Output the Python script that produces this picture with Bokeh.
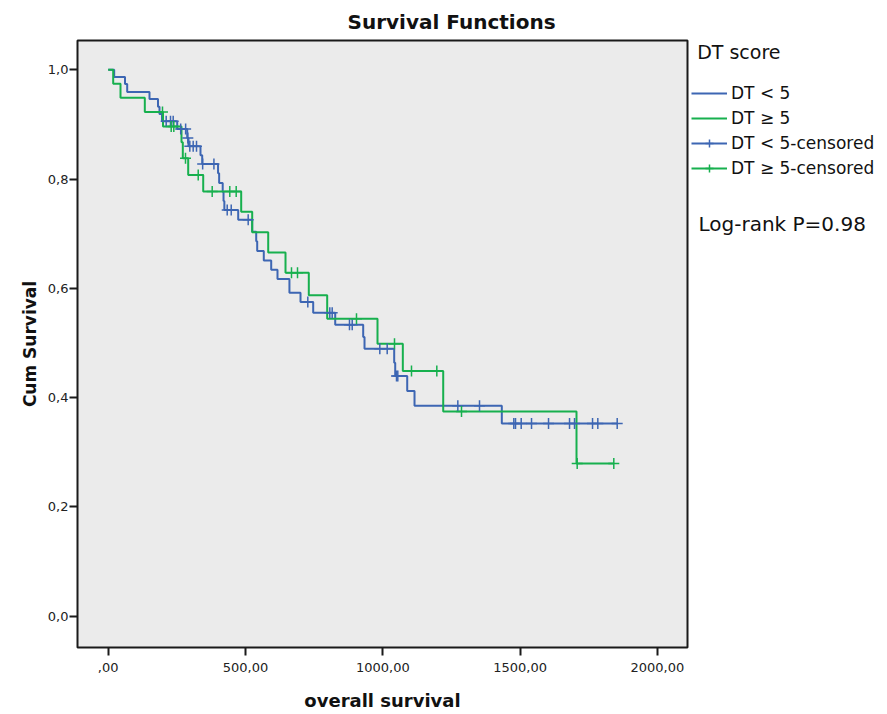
from bokeh.plotting import figure
from bokeh.layouts import row
from bokeh.models import Range1d, FixedTicker, Label, Legend, LegendItem
from bokeh.embed import file_html
from bokeh.resources import INLINE

# ---- data ----
blue_t = [0, 21.8, 61.2, 69.2, 150.4, 181.4, 186.8, 195.9, 251.3, 287.7, 292.4, 336.1, 342.3,
          400, 404, 417, 420, 423, 473.4, 524.4, 539.0, 542.6, 566.6, 593.6, 616.5, 660.0,
          700.3, 746.5, 826.7, 928.6, 933.4, 1041.5, 1045.2, 1088.9, 1115.5, 1433.4, 1853.6]
blue_s = [1.0, 0.9868, 0.9737, 0.9591, 0.9463, 0.9324, 0.9189, 0.9056, 0.8915, 0.875, 0.8599,
          0.8434, 0.8276, 0.8105, 0.7928, 0.7764, 0.7600, 0.7435, 0.7253, 0.7033, 0.6863, 0.6681,
          0.6511, 0.6339, 0.6169, 0.5919, 0.5749, 0.5554, 0.5334, 0.511, 0.4896, 0.464, 0.4397,
          0.4123, 0.3849, 0.3526, 0.3526]
blue_cens_t = [211.2, 226.9, 236.7, 264, 282, 290, 297.2, 309.5, 321.6, 344, 385, 433.4, 448,
               509.8, 726.9, 807, 815.7, 878.7, 888.6, 989.1, 1016, 1049.9, 1054.6, 1273.2,
               1352.2, 1477.1, 1483.3, 1504, 1541.6, 1603.5, 1680, 1698.2, 1763.8, 1783, 1853.6]
blue_cens_s = [0.9056, 0.9056, 0.9056, 0.8915, 0.8915, 0.875, 0.8599, 0.8599, 0.8599, 0.8276,
               0.8276, 0.7435, 0.7435, 0.7253, 0.5749, 0.5554, 0.5554, 0.5334, 0.5334, 0.4896,
               0.4896, 0.4397, 0.4397, 0.3849, 0.3849, 0.3526, 0.3526, 0.3526, 0.3526, 0.3526,
               0.3526, 0.3526, 0.3526, 0.3526, 0.3526]

green_t = [0, 18.2, 44.8, 133.3, 199.6, 266.9, 271.7, 291.3, 346, 484.3, 524.4, 582.7, 645.7,
           730.5, 797.5, 980.7, 1072.9, 1220, 1705.4, 1841.2]
green_s = [1.0, 0.9744, 0.9489, 0.9225, 0.8959, 0.8672, 0.8381, 0.8075, 0.7771, 0.7399, 0.7028,
           0.6657, 0.6284, 0.5871, 0.5444, 0.4987, 0.4489, 0.3745, 0.2795, 0.2795]
green_cens_t = [197.7, 229.4, 238.9, 281.5, 327.8, 378.7, 442.8, 466.1, 667.5, 689.4, 904.2,
                1042.6, 1104.5, 1196.7, 1286.6, 1707.9, 1841.2]
green_cens_s = [0.9225, 0.8959, 0.8959, 0.8381, 0.8075, 0.7771, 0.7771, 0.7771, 0.6284, 0.6284,
                0.5444, 0.4987, 0.4489, 0.4489, 0.3745, 0.2795, 0.2795]

x_ticks = [0, 500, 1000, 1500, 2000]
x_tick_labels = [",00", "500,00", "1000,00", "1500,00", "2000,00"]
y_ticks = [0.0, 0.2, 0.4, 0.6, 0.8, 1.0]
y_tick_labels = ["0,0", "0,2", "0,4", "0,6", "0,8", "1,0"]

group_labels = ["DT < 5", "DT \u2265 5"]
legend_title = "DT score"
test_text = "Log-rank P=0.98"

BLUE = "#3D66B3"
GREEN = "#17B04E"
FONT = "DejaVu Sans"
INK = "#111111"

p = figure(width=691, height=714, title="Survival Functions",
           x_range=Range1d(-111.8, 2109.6), y_range=Range1d(-0.0573, 1.0535),
           output_backend="svg", toolbar_location=None,
           min_border_left=77, min_border_right=4, min_border_top=39, min_border_bottom=67)
p.background_fill_color = "#EBEBEB"
p.border_fill_color = "white"
p.outline_line_color = "#1a1a1a"
p.outline_line_width = 2
p.grid.visible = False

p.title.align = "left"
p.title.offset = 270
p.title.standoff = 14
p.title.text_font = FONT
p.title.text_font_size = "20px"
p.title.text_font_style = "bold"
p.title.text_color = INK

p.xaxis.ticker = FixedTicker(ticks=x_ticks)
p.xaxis.major_label_overrides = dict(zip(x_ticks, x_tick_labels))
p.yaxis.ticker = FixedTicker(ticks=y_ticks)
p.yaxis.major_label_overrides = dict(zip(y_ticks, y_tick_labels))
for ax in (p.xaxis, p.yaxis):
    ax.axis_line_color = None
    ax.major_tick_out = 8
    ax.major_tick_in = 0
    ax.major_tick_line_width = 2
    ax.major_tick_line_color = "#1a1a1a"
    ax.minor_tick_out = 0
    ax.minor_tick_in = 0
    ax.major_label_text_font = FONT
    ax.major_label_text_font_size = "13px"
    ax.major_label_text_color = "#222222"
    ax.axis_label_text_font = FONT
    ax.axis_label_text_font_style = "bold"
    ax.axis_label_text_color = INK
p.xaxis.major_label_standoff = 7
p.yaxis.major_label_standoff = 1
p.xaxis.axis_label = "overall survival"
p.yaxis.axis_label = "Cum Survival"
p.xaxis.axis_label_text_font_size = "18px"
p.yaxis.axis_label_text_font_size = "17px"
p.xaxis.axis_label_standoff = 15
p.yaxis.axis_label_standoff = 5

p.step(blue_t, blue_s, mode="after", line_color=BLUE, line_width=2)
p.step(green_t, green_s, mode="after", line_color=GREEN, line_width=2)
p.scatter(blue_cens_t, blue_cens_s, marker="cross", size=11, line_color=BLUE, line_width=1.5)
p.scatter(green_cens_t, green_cens_s, marker="cross", size=11, line_color=GREEN, line_width=1.5)

# ---- legend panel (its frame is aligned with the main frame: canvas y 39..647) ----
# The legend renderers reuse the series; their survival values (0..1) fall outside this
# panel's range, so only their legend icons are visible.
q = figure(width=196, height=714, x_range=Range1d(0, 196), y_range=Range1d(647, 39),
           output_backend="svg", toolbar_location=None, x_axis_type=None, y_axis_type=None,
           min_border_left=0, min_border_right=0, min_border_top=0, min_border_bottom=0)
q.outline_line_color = None
q.grid.visible = False
q.background_fill_color = "white"
q.border_fill_color = "white"

lb = q.step(blue_t, blue_s, mode="after", line_color=BLUE, line_width=2)
lg = q.step(green_t, green_s, mode="after", line_color=GREEN, line_width=2)
lbl = q.line(blue_cens_t, blue_cens_s, line_color=BLUE, line_width=2)
lgl = q.line(green_cens_t, green_cens_s, line_color=GREEN, line_width=2)
lbc = q.scatter(blue_cens_t, blue_cens_s, marker="cross", size=11, line_color=BLUE, line_width=1.5)
lgc = q.scatter(green_cens_t, green_cens_s, marker="cross", size=11, line_color=GREEN, line_width=1.5)

legend = Legend(items=[
    LegendItem(label=group_labels[0], renderers=[lb]),
    LegendItem(label=group_labels[1], renderers=[lg]),
    LegendItem(label=group_labels[0] + "-censored", renderers=[lbl, lbc]),
    LegendItem(label=group_labels[1] + "-censored", renderers=[lgl, lgc]),
], location=(0, 469), glyph_width=36, glyph_height=20, label_height=20, label_standoff=4,
    spacing=5, padding=0, margin=0, border_line_alpha=0, background_fill_alpha=0,
    label_text_font=FONT, label_text_font_size="17px", label_text_color=INK)
q.add_layout(legend)

q.add_layout(Label(x=5.7, y=50.7, text=legend_title, text_font=FONT, text_font_size="19px",
                   text_baseline="middle", text_color=INK))
q.add_layout(Label(x=7, y=223.3, text=test_text, text_font=FONT, text_font_size="20px",
                   text_baseline="middle", text_color=INK))

layout = row(p, q)
open("out.html", "w").write(file_html(layout, INLINE))
